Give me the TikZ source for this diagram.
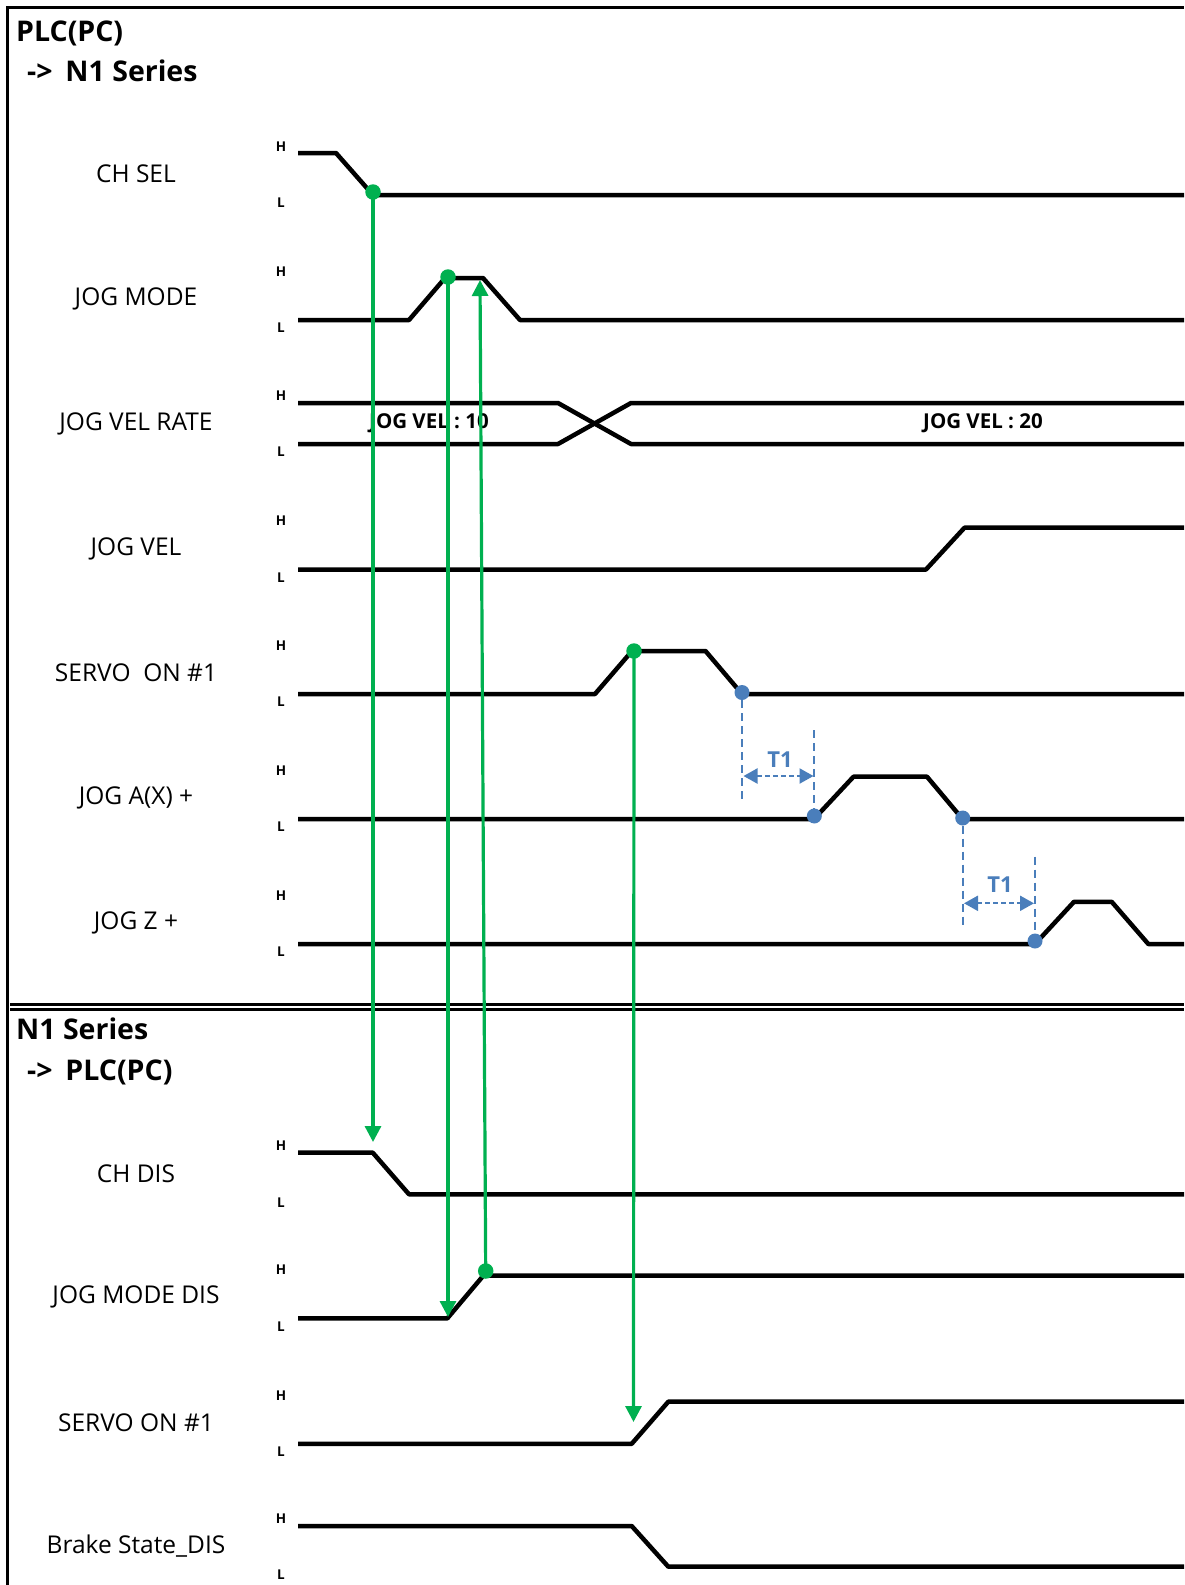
\documentclass[tikz,border=0pt]{standalone}
\usepackage{fontspec}
\setmainfont{Open Sans}
\usetikzlibrary{arrows.meta}
\definecolor{sgreen}{HTML}{00B050}
\definecolor{sblue}{HTML}{4A7EBB}
\begin{document}
\begin{tikzpicture}[x=1pt,y=-1pt,
  sig/.style={line width=4.5pt,line join=bevel,black},
  frame/.style={line width=3pt,black},
  lbl/.style={font=\fontsize{24.5}{27}\selectfont,anchor=center,inner sep=0pt},
  hl/.style={font=\bfseries\fontsize{13.5}{15}\selectfont,anchor=center,inner sep=0pt},
  title/.style={font=\bfseries\fontsize{28.5}{32}\selectfont,anchor=base west,inner sep=0pt},
  vel/.style={font=\bfseries\fontsize{20.5}{22}\selectfont,anchor=center,inner sep=0pt},
  gdot/.style={circle,fill=sgreen,minimum size=15.5pt,inner sep=0pt},
  bdot/.style={circle,fill=sblue,minimum size=15pt,inner sep=0pt},
  garrow/.style={line width=3.2pt,sgreen,-{Triangle[width=16pt,length=16pt]}},
  bdash/.style={line width=2.2pt,sblue,dash pattern=on 8pt off 5pt},
  barrow/.style={line width=2.2pt,sblue,dash pattern=on 5pt off 3pt,{Triangle[width=15pt,length=14pt]}-{Triangle[width=15pt,length=14pt]}},
  tone/.style={font=\bfseries\fontsize{22}{24}\selectfont,text=sblue,anchor=center,inner sep=0pt}]
\useasboundingbox (0,0) rectangle (1184,1585);
% frame
\draw[frame] (7.5,1585) -- (7.5,7.5) -- (1184,7.5);
\draw[line width=2.5pt] (10,1004.5) -- (1184,1004.5);
\draw[line width=2.5pt] (10,1009.7) -- (1184,1009.7);
% titles
\node[title] (t1a) at (16,41.5) {PLC(PC)};
\node[title] (t1b) at (27,81.5) {->\hspace{0.45em}N1 Series};
\node[title] (t2a) at (16,1039) {N1 Series};
\node[title] (t2b) at (27,1080) {->\hspace{0.45em}PLC(PC)};
% row labels
\node[lbl] (n1) at (136,174) {CH SEL};
\node[lbl] (n2) at (136,299) {JOG MODE};
\node[lbl] (n3) at (136,423.5) {JOG VEL RATE};
\node[lbl] (n4) at (136,548.5) {JOG VEL};
\node[lbl] (n5) at (136,673) {SERVO\ \ ON \#1};
\node[lbl] (n6) at (136,798) {JOG A(X) +};
\node[lbl] (n7) at (136,923) {JOG Z +};
\node[lbl] (m1) at (136,1173.5) {CH DIS};
\node[lbl] (m2) at (136,1297) {JOG MODE DIS};
\node[lbl] (m3) at (136,1422.5) {SERVO ON \#1};
\node[lbl] (m4) at (136,1546.5) {Brake State\_DIS};
% H / L markers
\foreach \L [count=\i] in {195,320,444,569.5,694,819,944,1194.3,1318.4,1443.8,1566.7}{
  \node[hl] (h\i) at (281,\L-48.5) {H};
  \node[hl] (l\i) at (281,\L+8) {L};
}
% signals (upper)
\draw[sig] (298,153) -- (336,153) -- (373,195) -- (1184,195);
\draw[sig] (298,320) -- (409,320) -- (445,278) -- (483,278) -- (520,320) -- (1184,320);
\draw[sig] (298,403) -- (558,403) -- (631,444) -- (1184,444);
\draw[sig] (298,444) -- (558,444) -- (631,403) -- (1184,403);
\draw[sig] (298,569.5) -- (926,569.5) -- (964.5,527.7) -- (1184,527.7);
\draw[sig] (298,694) -- (595,694) -- (632,651) -- (705.5,651) -- (742,694) -- (1184,694);
\draw[sig] (298,819) -- (814,819) -- (853.5,776.7) -- (927,776.7) -- (962.5,819) -- (1184,819);
\draw[sig] (298,944) -- (1035,944) -- (1074,901.8) -- (1111.7,901.8) -- (1148.3,944) -- (1184,944);
% signals (lower)
\draw[sig] (298,1152.6) -- (372.7,1152.6) -- (409,1194.3) -- (1184,1194.3);
\draw[sig] (298,1318.4) -- (447.3,1318.4) -- (483.3,1275.7) -- (1184,1275.7);
\draw[sig] (298,1443.8) -- (631.7,1443.8) -- (668.3,1401.7) -- (1184,1401.7);
\draw[sig] (298,1526) -- (631.7,1526) -- (668.3,1566.7) -- (1184,1566.7);
% velocity labels
\node[vel] (v10) at (429,423.5) {JOG VEL : 10};
\node[vel] (v20) at (983,423.5) {JOG VEL : 20};
% green cause/effect arrows
\coordinate (e1) at (373,1142);
\coordinate (e2) at (448,1317);
\coordinate (e3) at (480,280);
\coordinate (e4) at (633.5,1422);
\node[gdot] (g1) at (373,192) {};
\node[gdot] (g2) at (448,277) {};
\node[gdot] (g3) at (485.7,1271) {};
\node[gdot] (g4) at (634,651) {};
\draw[garrow] (g1.center) -- (e1);
\draw[garrow] (g2.center) -- (e2);
\draw[garrow] (g3.center) -- (e3);
\draw[garrow] (g4.center) -- (e4);
% T1 dimensions
\node[bdot] (b1) at (742,692.5) {};
\node[bdot] (b2) at (814.3,816) {};
\node[bdot] (b3) at (962.7,818) {};
\node[bdot] (b4) at (1035,941) {};
\coordinate (d1) at (742,798.5);
\coordinate (d2) at (814.3,730);
\coordinate (d3) at (962.7,925);
\coordinate (d4) at (1035,856.5);
\draw[bdash] (b1) -- (d1);
\draw[bdash] (d2) -- (b2);
\draw[bdash] (b3) -- (d3);
\draw[bdash] (d4) -- (b4);
\coordinate (a1) at (743.5,776);
\coordinate (a2) at (813.5,776);
\coordinate (a3) at (964,903.3);
\coordinate (a4) at (1034,903.3);
\draw[barrow] (a1) -- (a2);
\draw[barrow] (a3) -- (a4);
\node[tone] (tt1) at (780,760) {T1};
\node[tone] (tt2) at (1000,885) {T1};
\end{tikzpicture}
\end{document}
